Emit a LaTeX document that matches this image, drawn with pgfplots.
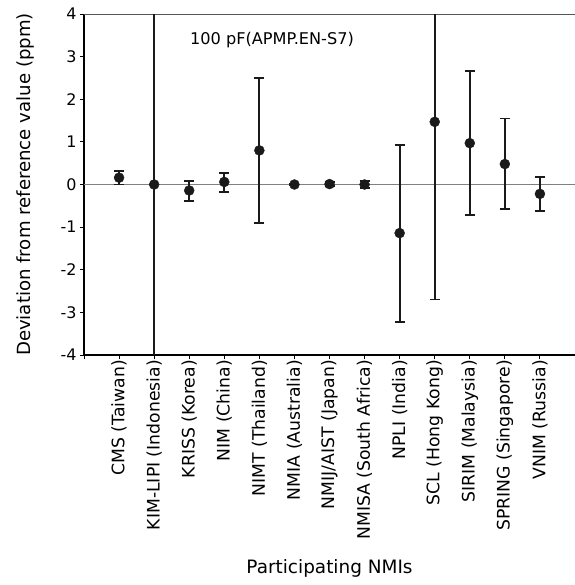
\documentclass[border=0pt]{standalone}
\usepackage{pgfplots}
\pgfplotsset{compat=1.18}
\usepackage{pgfplotstable}
\usepackage{fontspec}
\setmainfont{DejaVu Sans}
\definecolor{dotc}{HTML}{1A1A1A}
\definecolor{framegray}{HTML}{555555}
\pgfplotstableread{
x y ep em
0 0.16 0.15 0.16
1 0.00 10 10
2 -0.14 0.23 0.24
3 0.06 0.21 0.24
4 0.80 1.70 1.71
5 0.00 0.02 0.02
6 0.01 0.04 0.04
7 0.00 0.09 0.09
8 -1.14 2.07 2.09
9 1.47 4.17 4.17
10 0.97 1.70 1.69
11 0.48 1.07 1.06
12 -0.22 0.40 0.41
}\datatab
\begin{document}
\begin{tikzpicture}
\useasboundingbox (-84bp,-230bp) rectangle (491bp,355bp);
\begin{axis}[
  at={(0,0)}, anchor=south west,
  scale only axis, width=491bp, height=341bp,
  xmin=-1, xmax=13, ymin=-4, ymax=4,
  axis lines=left, axis line style={-, line width=1.4pt, black},
  xtick={-1,...,12},
  xticklabels={,CMS (Taiwan),KIM-LIPI (Indonesia),KRISS (Korea),NIM (China),NIMT (Thailand),NMIA (Australia),NMIJ/AIST (Japan),NMISA (South Africa),NPLI (India),SCL (Hong Kong),SIRIM (Malaysia),SPRING (Singapore),VNIM (Russia)},
  xticklabel style={rotate=90, anchor=east, font=\fontsize{17.3}{17.3}\selectfont, inner sep=1bp},
  ytick={-4,...,4},
  yticklabel style={font=\fontsize{16}{16}\selectfont},
  /pgf/number format/assume math mode=true,
  tick align=outside, major tick length=4bp,
  tick style={line width=1pt, black},
  ylabel={Deviation from reference value (ppm)},
  ylabel style={at={(axis description cs:-0.12,0.5)}, anchor=center, font=\fontsize{18.2}{18.2}\selectfont},
  xlabel={Participating NMIs},
  xlabel style={at={(axis description cs:0.5,-0.625)}, anchor=center, font=\fontsize{18.5}{18.5}\selectfont},
  clip=true,
]
\draw[framegray, line width=1.1pt] (rel axis cs:0,1) -- (rel axis cs:1,1);
\draw[gray, line width=0.9pt] (axis cs:-1,0) -- (axis cs:13,0);
\addplot[only marks, mark=*, mark size=5bp, color=dotc,
  error bars/.cd, y dir=both, y explicit,
  error bar style={line width=1.8pt, dotc},
  error mark options={rotate=90, mark size=5bp, line width=1.8pt, dotc}]
  table[x=x, y=y, y error plus=ep, y error minus=em] {\datatab};
\node[anchor=center, font=\fontsize{16.2}{16.2}\selectfont] at (axis cs:4.36,3.4) {100 pF(APMP.EN-S7)};
\end{axis}
\end{tikzpicture}
\end{document}
